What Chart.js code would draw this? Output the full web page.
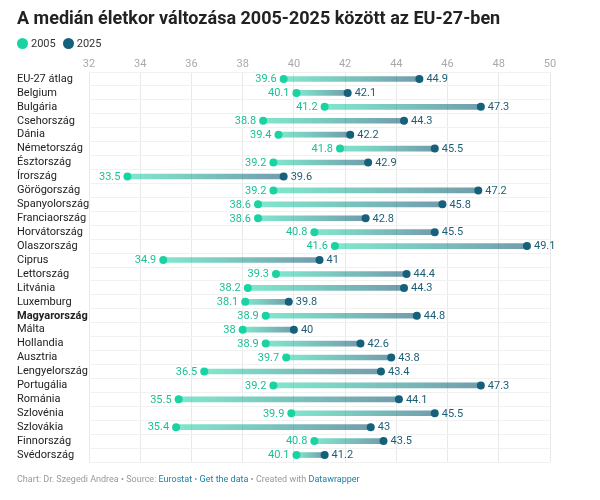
<!DOCTYPE html>
<html>
<head>
<meta charset="utf-8">
<script src="https://cdn.jsdelivr.net/npm/chart.js@4"></script>
<style>
  body { margin: 0; background: #fff; font-family: Roboto, sans-serif; }
  .wrap { position: relative; width: 600px; height: 500px; }
  h1 { position: absolute; left: 17px; top: 7px; margin: 0; font-size: 18px; font-weight: 700; color: #222; white-space: nowrap; }
  .legend { position: absolute; left: 17px; top: 37px; font-size: 11px; color: #333; display: flex; gap: 7px; }
  .legend span { display: inline-flex; align-items: center; gap: 3px; }
  .legend i { display: inline-block; width: 11px; height: 11px; border-radius: 50%; }
  .footer { position: absolute; left: 17px; top: 474px; font-size: 9px; color: #999; }
  .footer a { color: #1d81a2; text-decoration: none; }
  canvas { position: absolute; left: 0; top: 0; }
</style>
</head>
<body>
<div class="wrap">
  <canvas id="chart" width="600" height="500"></canvas>
  <h1>A medián életkor változása 2005-2025 között az EU-27-ben</h1>
  <div class="legend">
    <span><i style="background:#19d3a2"></i>2005</span>
    <span><i style="background:#15607a"></i>2025</span>
  </div>
  <div class="footer">Chart: Dr. Szegedi Andrea • Source: <a>Eurostat</a> • <a>Get the data</a> • Created with <a>Datawrapper</a></div>
</div>
<script>
// Data
const categories = ['EU-27 átlag', 'Belgium', 'Bulgária', 'Csehország', 'Dánia', 'Németország', 'Észtország', 'Írország',
  'Görögország', 'Spanyolország', 'Franciaország', 'Horvátország', 'Olaszország', 'Ciprus', 'Lettország', 'Litvánia',
  'Luxemburg', 'Magyarország', 'Málta', 'Hollandia', 'Ausztria', 'Lengyelország', 'Portugália', 'Románia',
  'Szlovénia', 'Szlovákia', 'Finnország', 'Svédország'];
const values2005 = [39.6, 40.1, 41.2, 38.8, 39.4, 41.8, 39.2, 33.5, 39.2, 38.6, 38.6, 40.8, 41.6, 34.9, 39.3, 38.2,
  38.1, 38.9, 38, 38.9, 39.7, 36.5, 39.2, 35.5, 39.9, 35.4, 40.8, 40.1];
const values2025 = [44.9, 42.1, 47.3, 44.3, 42.2, 45.5, 42.9, 39.6, 47.2, 45.8, 42.8, 45.5, 49.1, 41, 44.4, 44.3,
  39.8, 44.8, 40, 42.6, 43.8, 43.4, 47.3, 44.1, 45.5, 43, 43.5, 41.2];
const xTicks = [32, 34, 36, 38, 40, 42, 44, 46, 48, 50];

const COLOR_2005 = '#19d3a2';
const COLOR_2025 = '#15607a';
const highlight = 'Magyarország';

// gradient per bar, from the 2005 point to the 2025 point
function barGradient(context) {
  const chart = context.chart;
  const { chartArea } = chart;
  if (!chartArea || context.dataIndex === undefined) return 'rgba(100,150,160,0.5)';
  const xs = chart.scales.x;
  const i = context.dataIndex;
  const g = chart.ctx.createLinearGradient(xs.getPixelForValue(values2005[i]), 0, xs.getPixelForValue(values2025[i]), 0);
  g.addColorStop(0, 'rgba(25,211,162,0.55)');
  g.addColorStop(1, 'rgba(21,90,118,0.6)');
  return g;
}

const valueLabels = {
  id: 'valueLabels',
  afterDatasetsDraw(chart) {
    const { ctx } = chart;
    const xs = chart.scales.x, ys = chart.scales.y;
    ctx.save();
    ctx.font = '11px Roboto, sans-serif';
    ctx.textBaseline = 'middle';
    categories.forEach((c, i) => {
      const y = ys.getPixelForValue(i);
      ctx.fillStyle = '#1bbf94';
      ctx.textAlign = 'right';
      ctx.fillText(String(values2005[i]), xs.getPixelForValue(values2005[i]) - 7, y + 0.5);
      ctx.fillStyle = '#1d5e77';
      ctx.textAlign = 'left';
      ctx.fillText(String(values2025[i]), xs.getPixelForValue(values2025[i]) + 7, y + 0.5);
    });
    ctx.restore();
  }
};

new Chart(document.getElementById('chart'), {
  type: 'bar',
  data: {
    labels: categories,
    datasets: [{
      label: 'range',
      data: categories.map((c, i) => [values2005[i], values2025[i]]),
      backgroundColor: barGradient,
      barThickness: 5,
      borderSkipped: false,
      order: 3
    }, {
      type: 'line',
      label: '2005',
      data: values2005,
      showLine: false,
      pointRadius: 4,
      pointBackgroundColor: COLOR_2005,
      pointBorderWidth: 0,
      order: 1
    }, {
      type: 'line',
      label: '2025',
      data: values2025,
      showLine: false,
      pointRadius: 4,
      pointBackgroundColor: COLOR_2025,
      pointBorderWidth: 0,
      order: 2
    }]
  },
  options: {
    indexAxis: 'y',
    responsive: false,
    animation: false,
    layout: { padding: { left: 17, right: 50, top: 51, bottom: 38 } },
    plugins: { legend: { display: false }, tooltip: { enabled: false } },
    scales: {
      x: {
        position: 'top',
        min: 32,
        max: 50,
        afterBuildTicks: scale => { scale.ticks = xTicks.map(v => ({ value: v })); },
        afterFit: scale => { scale.height = 21; },
        grid: { color: '#e9e9e9', drawTicks: false },
        border: { display: false },
        ticks: { color: '#aaa', font: { family: 'Roboto', size: 11 }, padding: 1 }
      },
      y: {
        afterFit: scale => { scale.width = 72; },
        grid: { color: '#f1f1f1', drawTicks: false, offset: true },
        border: { display: false },
        ticks: {
          autoSkip: false,
          crossAlign: 'far',
          padding: 0,
          color: '#222',
          font: ctx => ({ family: 'Roboto', size: 11, weight: categories[ctx.index] === highlight ? 'bold' : 'normal' })
        }
      }
    }
  },
  plugins: [valueLabels]
});
</script>
</body>
</html>
